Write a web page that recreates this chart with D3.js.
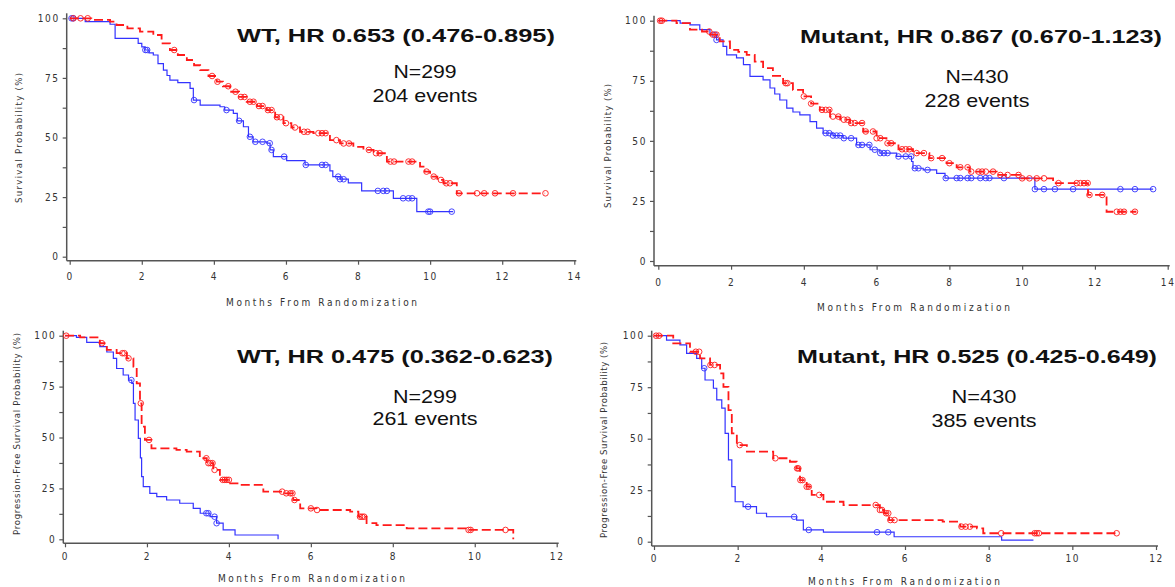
<!DOCTYPE html>
<html>
<head>
<meta charset="utf-8">
<script src="https://cdn.jsdelivr.net/npm/d3@7"></script>
<style>
body { margin: 0; background: #fff; }
.sas { font-family: "Liberation Sans Narrow", "DejaVu Sans Condensed", sans-serif; fill: #333; }
.big { font-family: "Liberation Sans", Arial, sans-serif; fill: #111; }
</style>
</head>
<body>
<svg id="chart" width="1175" height="587"></svg>
<script>

// ---- data (months, survival %) ----
const titles = ["WT, HR 0.653 (0.476-0.895)", "Mutant, HR 0.867 (0.670-1.123)",
                "WT, HR 0.475 (0.362-0.623)", "Mutant, HR 0.525 (0.425-0.649)"];
const nLabels = ["N=299", "N=430", "N=299", "N=430"];
const eventLabels = ["204 events", "228 events", "261 events", "385 events"];
const yLabels = ["Survival Probability (%)", "Survival Probability (%)",
                 "Progression-Free Survival Probability (%)", "Progression-Free Survival Probability (%)"];
const xLabel = "Months From Randomization";
const yTicks = [0, 12.5, 25, 37.5, 50, 62.5, 75, 87.5, 100];
const xTicksOS = [0, 2, 4, 6, 8, 10, 12, 14];
const xTicksPFS = [0, 2, 4, 6, 8, 10, 12];

// OS, WT
const osWtBlueT = [0, 0.43, 1.12, 1.26, 1.9, 2.0, 2.09, 2.2, 2.32, 2.45, 2.6, 2.7, 2.78, 3.0, 3.34, 3.43, 3.62, 4.17, 4.3, 4.54,
                   4.65, 4.82, 4.96, 5.09, 5.47, 5.56, 5.65, 6.02, 6.53, 7.22, 7.3, 7.5, 7.73, 8.1, 8.98, 9.63, 10.64];
const osWtBlueS = [100, 98.6, 97.5, 91.6, 89.5, 88, 86.7, 85.5, 84.6, 81, 78.3, 76, 74.1, 73, 70.6, 65.7, 63.6, 62.9, 61.5, 60.1,
                   57, 54.5, 50.3, 48.2, 47.6, 44.8, 42, 40.3, 38.5, 36, 33.6, 32.5, 31, 27.6, 24.5, 18.9, 18.9];
const osWtBlueCens = [0.05, 0.1, 2.1, 2.15, 3.45, 4.35, 4.7, 5.0, 5.15, 5.35, 5.55, 5.6, 5.95, 6.55, 7.0, 7.1, 7.45, 7.5, 7.6,
                      8.55, 8.7, 8.8, 9.25, 9.4, 9.5, 9.95, 10.0, 10.6];
const osWtRedT = [0, 0.6, 1.12, 1.3, 1.6, 1.95, 2.32, 2.55, 2.78, 3.0, 3.25, 3.45, 3.62, 3.85, 4.08, 4.25, 4.45, 4.7, 4.91, 5.2,
                  5.47, 5.7, 5.93, 6.15, 6.39, 6.76, 7.22, 7.5, 7.87, 8.15, 8.43, 8.8, 9.72, 9.85, 10.0, 10.2, 10.37, 10.74, 13.19];
const osWtRedS = [100, 99.3, 98.6, 97.2, 95.8, 94.4, 93, 89.5, 86.7, 84.6, 82.5, 80.3, 78.3, 75.8, 73.4, 71.5, 69.2, 67, 65, 63.2,
                  61.5, 58.5, 56, 54.2, 52.4, 51.8, 48.9, 47.5, 46.1, 44.8, 43.4, 39.9, 37.8, 35.7, 33.6, 32.2, 30.8, 26.6, 26.6];
const osWtRedCens = [0.1, 0.3, 0.5, 2.9, 3.95, 4.1, 4.4, 4.6, 4.75, 4.85, 5.0, 5.1, 5.25, 5.35, 5.5, 5.6, 5.75, 5.85, 6.0, 6.25,
                     6.5, 6.6, 6.9, 7.0, 7.1, 7.4, 7.6, 7.75, 8.3, 8.5, 8.6, 8.9, 9.0, 9.4, 9.5, 9.9, 10.1, 10.3, 10.45, 10.55,
                     10.8, 11.3, 11.5, 11.8, 12.3, 13.2];

// OS, Mutant
const osMutBlueT = [0, 0.6, 0.87, 1.14, 1.42, 1.6, 1.78, 1.88, 2.15, 2.34, 2.52, 2.88, 3.07, 3.2, 3.34, 3.53, 3.7, 3.89, 4.17, 4.35,
                    4.53, 4.8, 5.08, 5.45, 5.82, 6.09, 6.55, 6.96, 7.0, 7.28, 7.65, 7.88, 10.35, 13.6];
const osMutBlueS = [100, 99, 98.3, 96.3, 94.2, 92, 89.3, 85.8, 84.5, 81.7, 76.8, 75.4, 72, 69.5, 67, 63.6, 62, 60.8, 58, 55.3,
                    53.2, 52.2, 51.1, 48.3, 46.3, 44.9, 43.5, 41.4, 38.6, 37.9, 36.5, 34.5, 29.9, 29.9];
const osMutBlueCens = [1.55, 1.6, 4.6, 4.7, 4.8, 4.9, 5.0, 5.1, 5.3, 5.5, 5.6, 5.8, 5.95, 6.1, 6.2, 6.3, 6.6, 6.8, 6.95, 7.05,
                       7.15, 7.4, 7.9, 8.2, 8.3, 8.5, 8.6, 8.85, 9.0, 9.1, 9.5, 10.35, 10.6, 10.9, 11.4, 12.7, 13.1, 13.6];
const osMutRedT = [0, 0.5, 0.87, 1.2, 1.42, 1.69, 1.97, 2.2, 2.43, 2.65, 2.88, 3.15, 3.43, 3.7, 3.98, 4.2, 4.44, 4.72, 5.0, 5.27,
                   5.63, 6.0, 6.27, 6.6, 7.0, 7.45, 7.92, 8.2, 8.56, 9.3, 9.94, 10.85, 11.81, 12.32, 13.14];
const osMutRedS = [100, 99, 96.3, 95.5, 94.2, 91.4, 87.9, 87, 85.8, 83, 80.3, 77, 74, 71.2, 68.5, 65.5, 62.9, 60.1, 58.8, 57.4,
                   53.9, 51.1, 49, 46.5, 44.9, 42.8, 40.7, 39, 37.2, 35.8, 34.4, 32.4, 27.5, 20.5, 20.5];
const osMutRedCens = [0.05, 0.1, 1.4, 1.5, 1.6, 3.5, 3.55, 4.0, 4.2, 4.5, 4.6, 4.7, 4.8, 4.95, 5.1, 5.2, 5.3, 5.4, 5.6, 5.7,
                      5.9, 6.0, 6.1, 6.3, 6.4, 6.7, 6.8, 6.9, 7.1, 7.3, 7.5, 7.8, 8.0, 8.3, 8.5, 8.6, 8.8, 8.9, 9.0, 9.2,
                      9.4, 9.6, 9.9, 10.0, 10.2, 10.4, 10.6, 11.0, 11.5, 11.6, 11.7, 11.8, 11.85, 12.2, 12.6, 12.7, 12.8, 13.1];

// PFS, WT
const pfsWtBlueT = [0, 0.28, 0.53, 0.85, 1.02, 1.18, 1.26, 1.42, 1.55, 1.63, 1.67, 1.71, 1.79, 1.84, 1.87, 1.91, 2.07, 2.24, 2.48, 2.8,
                    3.13, 3.3, 3.54, 3.7, 3.86, 4.15, 5.2];
const pfsWtBlueS = [100, 99.2, 96.7, 94.6, 92, 88.9, 83.9, 80.7, 78.2, 76.6, 66.8, 58.6, 49.6, 40, 30.8, 25.9, 22.6, 21, 19.3, 17.7,
                    15.2, 12.8, 11.1, 7.9, 4.6, 2.1, 0];
const pfsWtBlueCens = [1.62, 3.45, 3.5, 3.65, 3.7];
const pfsWtRedT = [0, 0.37, 0.85, 1.02, 1.26, 1.51, 1.67, 1.75, 1.83, 1.87, 1.95, 2.11, 2.72, 2.97, 3.29, 3.46, 3.62, 3.78, 4.03, 4.27,
                   4.84, 5.33, 5.57, 5.74, 6.14, 6.96, 7.16, 7.36, 7.6, 8.34, 9.8, 10.94];
const pfsWtRedS = [100, 99.2, 96.3, 93, 91.4, 88.9, 84.8, 76.6, 66.8, 55.3, 48.8, 44.7, 43.9, 43.1, 39.8, 37.4, 34.1, 29.2, 27.5, 26.7,
                   23.4, 22.6, 19.3, 15.2, 14.4, 13.6, 11.1, 7.9, 7, 5.4, 4.6, 0];
const pfsWtRedCens = [0.03, 0.9, 1.4, 1.45, 1.55, 1.85, 2.05, 3.45, 3.5, 3.55, 3.6, 3.65, 3.85, 3.9, 3.95, 4.0, 5.3, 5.4, 5.5, 5.55,
                      5.6, 6.0, 6.15, 7.2, 7.25, 7.3, 9.85, 9.9, 10.75];

// PFS, Mutant
const pfsMutBlueT = [0, 0.3, 0.62, 0.78, 1.02, 1.14, 1.22, 1.42, 1.5, 1.62, 1.7, 1.78, 1.86, 1.94, 2.13, 2.45, 2.69, 3.41, 3.57, 4.05,
                     5.74, 8.31, 9.07];
const pfsMutBlueS = [100, 97.9, 95.5, 91.4, 89, 84.2, 78.5, 74.5, 68.8, 64.8, 52.6, 39.7, 26.7, 19.4, 17, 13.8, 12.1, 10.5, 5.7, 4.6,
                     2.4, 0.8, 0.8];
const pfsMutBlueCens = [1.2, 2.25, 3.35, 3.7, 5.33, 5.6];
const pfsMutRedT = [0, 0.46, 0.86, 1.1, 1.34, 1.58, 1.66, 1.78, 1.86, 1.98, 2.22, 2.85, 3.25, 3.41, 3.49, 3.65, 3.77, 4.05, 4.53, 5.4,
                    5.5, 5.62, 6.9, 7.32, 7.72, 7.87, 11.06];
const pfsMutRedS = [100, 96.3, 92.2, 89, 85.8, 81.7, 75.2, 63.9, 52.6, 46.9, 43.7, 40.5, 38.8, 35.6, 29.9, 26.7, 22.7, 19.4, 17.8, 15.4,
                    13.8, 10.5, 9.7, 7.3, 6.5, 4.1, 4.1];
const pfsMutRedCens = [0.05, 0.12, 1.0, 1.08, 1.35, 1.45, 2.05, 2.9, 3.42, 3.45, 3.5, 3.55, 3.65, 3.7, 3.95, 5.3, 5.4, 5.45, 5.55, 5.6,
                       5.65, 5.75, 7.35, 7.45, 7.55, 8.3, 9.1, 9.15, 9.2, 11.06];

const blueColor = "#3333ff", redColor = "#ff1a1a", axisColor = "#555";

// ---- layout of the four panels ----
const panels = [
  { i: 0, xTicks: xTicksOS, blue: [osWtBlueT, osWtBlueS, osWtBlueCens], red: [osWtRedT, osWtRedS, osWtRedCens],
    x0: 69.7, x1: 574.3, yTop: 18.3, yBot: 256.7, axX: 66.7, axY: 260.7, tickPad: 8,
    tX: 396, tY: 41.7, tW: 318, nX: 425, nY: 78, eY: 101.7, nW: 63, eW: 105,
    ylX: 18, ylY: 138, ylW: 130, xlX: 321.5, xlY: 306, xlW: 191 },
  { i: 1, xTicks: xTicksOS, blue: [osMutBlueT, osMutBlueS, osMutBlueCens], red: [osMutRedT, osMutRedS, osMutRedCens],
    x0: 658.3, x1: 1167.7, yTop: 20.7, yBot: 261, axX: 654, axY: 265.7, tickPad: 9,
    tX: 981, tY: 43, tW: 362, nX: 977, nY: 83, eY: 106.5, nW: 63, eW: 105,
    ylX: 607, ylY: 146, ylW: 124, xlX: 913.5, xlY: 311, xlW: 193 },
  { i: 2, xTicks: xTicksPFS, blue: [pfsWtBlueT, pfsWtBlueS, pfsWtBlueCens], red: [pfsWtRedT, pfsWtRedS, pfsWtRedCens],
    x0: 65, x1: 556.7, yTop: 335.7, yBot: 539.3, axX: 63.3, axY: 543.3, tickPad: 6,
    tX: 395, tY: 363, tW: 316, nX: 425, nY: 403, eY: 425, nW: 64, eW: 105,
    ylX: 16.5, ylY: 434, ylW: 202, xlX: 311.5, xlY: 582, xlW: 187 },
  { i: 3, xTicks: xTicksPFS, blue: [pfsMutBlueT, pfsMutBlueS, pfsMutBlueCens], red: [pfsMutRedT, pfsMutRedS, pfsMutRedCens],
    x0: 654, x1: 1156, yTop: 335.7, yBot: 541.7, axX: 651.7, axY: 546, tickPad: 5,
    tX: 977, tY: 363, tW: 360, nX: 984, nY: 403, eY: 426.5, nW: 65, eW: 105,
    ylX: 603, ylY: 440, ylW: 196, xlX: 904, xlY: 585, xlW: 192 }
];

const svg = d3.select("#chart");

function stepAt(T, S, t) {
  const k = d3.bisectRight(T, t) - 1;
  return S[Math.max(0, k)];
}

panels.forEach(p => {
  const xMax = p.xTicks[p.xTicks.length - 1];
  const x = d3.scaleLinear().domain([0, xMax]).range([p.x0, p.x1]);
  const y = d3.scaleLinear().domain([0, 100]).range([p.yBot, p.yTop]);
  const g = svg.append("g");

  // y axis
  const gy = g.append("g")
    .attr("transform", "translate(" + p.axX + ",0)")
    .call(d3.axisLeft(y).tickValues(yTicks).tickSize(4).tickPadding(3)
      .tickFormat(d => d % 25 === 0 ? d : ""));
  gy.select(".domain").remove();
  gy.selectAll(".tick line").attr("stroke", axisColor).attr("stroke-width", 1.2);
  gy.selectAll(".tick text").attr("class", "sas").attr("font-size", 10)
    .attr("letter-spacing", "1.6px").attr("font-family", null);
  g.append("line")
    .attr("x1", p.axX).attr("x2", p.axX)
    .attr("y1", y(100) - 5).attr("y2", p.axY)
    .attr("stroke", axisColor).attr("stroke-width", 1.5);

  // x axis
  const gx = g.append("g")
    .attr("transform", "translate(0," + p.axY + ")")
    .call(d3.axisBottom(x).tickValues(p.xTicks).tickSize(4).tickPadding(p.tickPad));
  gx.select(".domain").remove();
  gx.selectAll(".tick line").attr("stroke", axisColor).attr("stroke-width", 1.2);
  gx.selectAll(".tick text").attr("class", "sas").attr("font-size", 10)
    .attr("letter-spacing", "1.6px").attr("font-family", null);
  g.append("line")
    .attr("x1", p.axX).attr("x2", x(xMax) + 2)
    .attr("y1", p.axY).attr("y2", p.axY)
    .attr("stroke", axisColor).attr("stroke-width", 1.5);

  // axis titles
  g.append("text").attr("class", "sas")
    .attr("x", p.xlX).attr("y", p.xlY)
    .attr("text-anchor", "middle").attr("font-size", 10)
    .attr("textLength", p.xlW).attr("lengthAdjust", "spacing")
    .text(xLabel);
  g.append("text").attr("class", "sas")
    .attr("transform", "translate(" + (p.ylX + 3.5) + "," + p.ylY + ") rotate(-90)")
    .attr("text-anchor", "middle").attr("font-size", 9.5)
    .attr("textLength", p.ylW).attr("lengthAdjust", "spacing")
    .text(yLabels[p.i]);

  // curves
  const line = d3.line().curve(d3.curveStepAfter)
    .x(d => x(d[0])).y(d => y(d[1]));

  [["blue", blueColor, null, 1.2], ["red", redColor, "9,4", 1.8]].forEach(([key, col, dash, w]) => {
    const [T, S, C] = p[key];
    const pts = T.map((t, k) => [t, S[k]]);
    g.append("path")
      .datum(pts)
      .attr("d", line)
      .attr("fill", "none")
      .attr("stroke", col)
      .attr("stroke-width", w)
      .attr("stroke-dasharray", dash);
    g.selectAll(null)
      .data(C)
      .enter()
      .append("circle")
      .attr("cx", d => x(d))
      .attr("cy", d => y(stepAt(T, S, d)))
      .attr("r", 2.8)
      .attr("fill", "none")
      .attr("stroke", col)
      .attr("stroke-width", 0.9);
  });

  // annotations
  g.append("text").attr("class", "big")
    .attr("x", p.tX).attr("y", p.tY)
    .attr("text-anchor", "middle").attr("font-size", 19).attr("font-weight", "bold")
    .attr("textLength", p.tW).attr("lengthAdjust", "spacingAndGlyphs")
    .text(titles[p.i]);
  g.append("text").attr("class", "big")
    .attr("x", p.nX).attr("y", p.nY)
    .attr("text-anchor", "middle").attr("font-size", 19)
    .attr("textLength", p.nW).attr("lengthAdjust", "spacingAndGlyphs")
    .text(nLabels[p.i]);
  g.append("text").attr("class", "big")
    .attr("x", p.nX).attr("y", p.eY)
    .attr("text-anchor", "middle").attr("font-size", 19)
    .attr("textLength", p.eW).attr("lengthAdjust", "spacingAndGlyphs")
    .text(eventLabels[p.i]);
});

</script>
</body>
</html>
